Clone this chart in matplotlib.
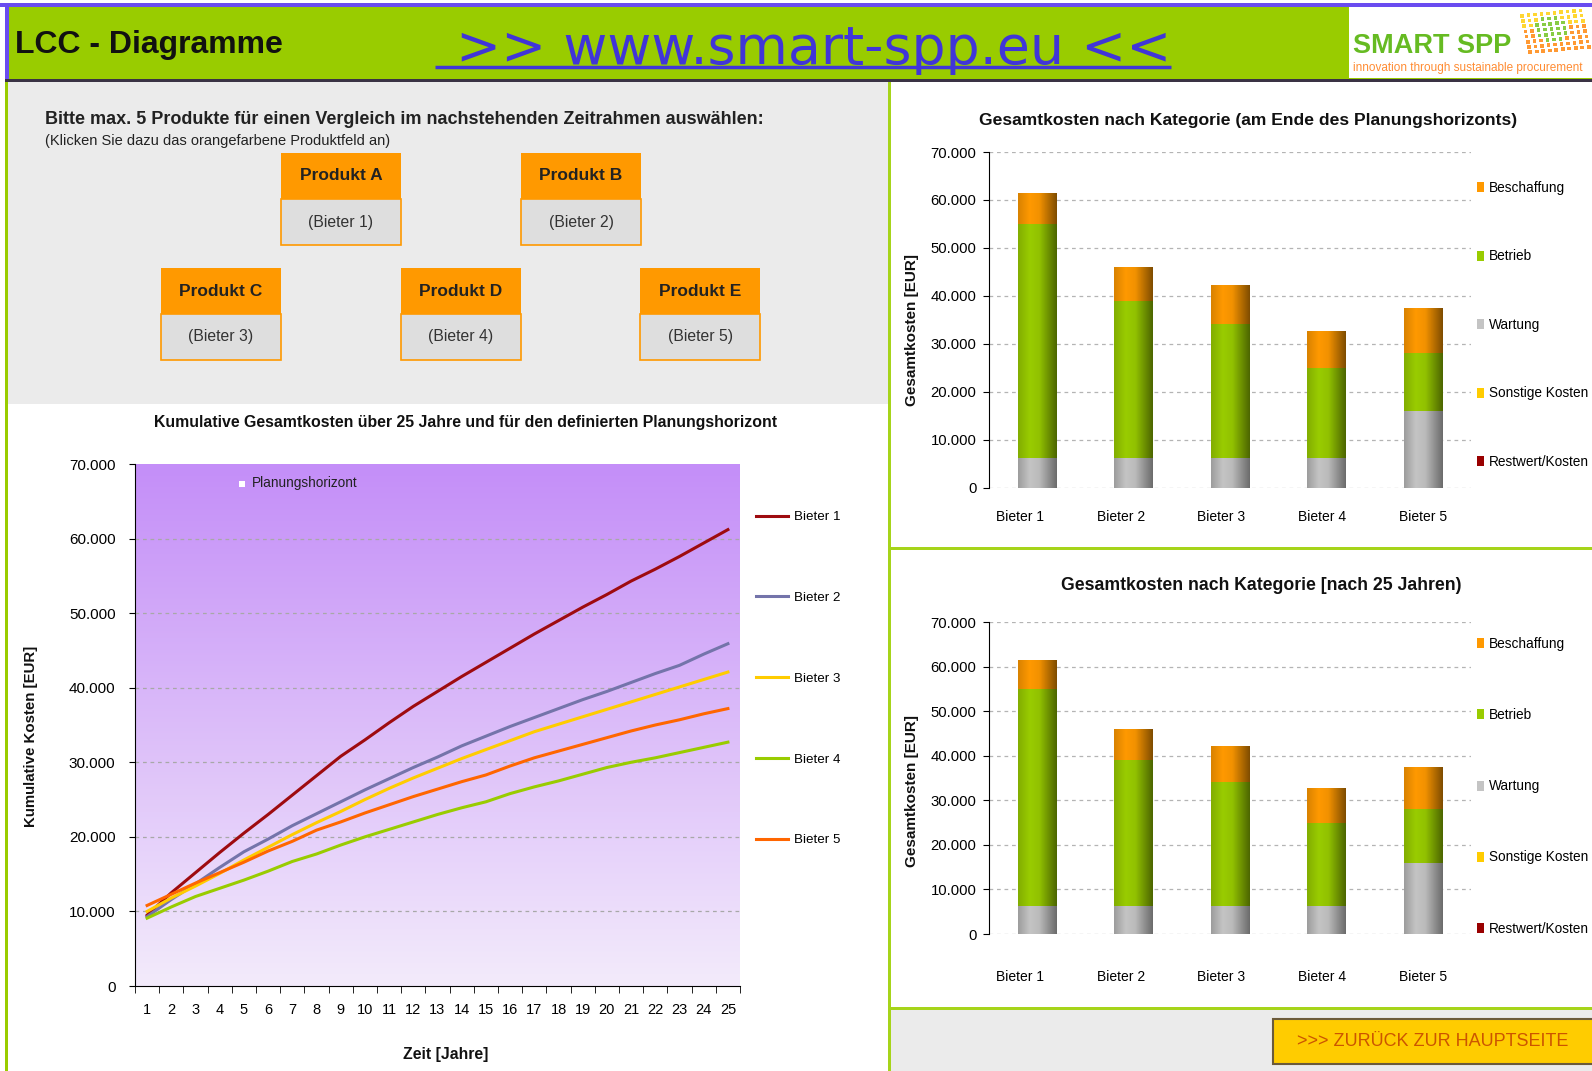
import numpy as np
import matplotlib
matplotlib.use('Agg')
import matplotlib.pyplot as plt
from matplotlib.patches import Rectangle
from matplotlib.colors import to_rgb
from matplotlib.ticker import FuncFormatter, MultipleLocator
from matplotlib.transforms import ScaledTranslation

plt.rcParams['font.family'] = ['Liberation Sans', 'DejaVu Sans']

W, H = 1592, 1071

# ---- data ----
jahre = list(range(1, 26))
bieter = ['Bieter 1', 'Bieter 2', 'Bieter 3', 'Bieter 4', 'Bieter 5']

kum_b1 = [9500, 12500, 15200, 17900, 20500, 23000, 25600, 28200, 30800, 33000,
          35300, 37500, 39500, 41500, 43400, 45300, 47200, 49000, 50800, 52500,
          54300, 55900, 57600, 59400, 61200]
kum_b2 = [9300, 11600, 13700, 15900, 18000, 19700, 21500, 23100, 24700, 26300,
          27800, 29300, 30700, 32200, 33500, 34800, 36000, 37200, 38400, 39500,
          40700, 41900, 43000, 44500, 45900]
kum_b3 = [10000, 11800, 13400, 15100, 16900, 18600, 20300, 21900, 23400, 25000,
          26500, 27900, 29200, 30500, 31700, 32900, 34100, 35100, 36100, 37100,
          38100, 39100, 40100, 41100, 42100]
kum_b4 = [9100, 10600, 12000, 13100, 14200, 15400, 16700, 17700, 18900, 20000,
          21000, 22000, 23000, 23900, 24700, 25800, 26700, 27500, 28400, 29300,
          30000, 30600, 31300, 32000, 32700]
kum_b5 = [10800, 12300, 13800, 15200, 16600, 18100, 19400, 20900, 22000, 23200,
          24300, 25400, 26400, 27400, 28300, 29500, 30600, 31500, 32400, 33300,
          34200, 35000, 35700, 36500, 37200]

kategorien = ['Beschaffung', 'Betrieb', 'Wartung', 'Sonstige Kosten', 'Restwert/Kosten']
wartung = [6200, 6200, 6200, 6200, 16000]
betrieb = [48800, 32800, 28000, 18800, 12100]
beschaffung = [6400, 7000, 8000, 7800, 9300]
sonstige = [0, 0, 0, 0, 0]
restwert = [0, 0, 0, 0, 0]

produkte = ['Produkt A', 'Produkt B', 'Produkt C', 'Produkt D', 'Produkt E']

line_colors = ['#9E0B0F', '#7474AA', '#FFCC00', '#99CC00', '#FF6600']
kat_colors = {'Beschaffung': '#FF9900', 'Betrieb': '#99CC00', 'Wartung': '#C4C4C4',
              'Sonstige Kosten': '#FFCC00', 'Restwert/Kosten': '#990000'}

def de_fmt(v, p):
    return f'{int(round(v)):,}'.replace(',', '.')

def px_axes(l, t, r, b):
    return fig.add_axes([l / W, 1 - b / H, (r - l) / W, (b - t) / H])

fig = plt.figure(figsize=(W / 100, H / 100), dpi=100, facecolor='white')

# ---- page background / frames ----
bg = fig.add_axes([0, 0, 1, 1])
bg.set_xlim(0, W)
bg.set_ylim(H, 0)
bg.axis('off')

bg.add_patch(Rectangle((8, 82), 881, 322, fc='#EBEBEB', ec='none'))
bg.add_patch(Rectangle((891, 1010), 701, 61, fc='#EBEBEB', ec='none'))
bg.add_patch(Rectangle((5, 5), W, 76, fc='#99CC00', ec='none'))
bg.add_patch(Rectangle((0, 3), W, 3.5, fc='#6A4CF0', ec='none'))
bg.add_patch(Rectangle((5, 3), 4, 78, fc='#6A4CF0', ec='none'))
bg.add_patch(Rectangle((5, 79), W, 3, fc='#3A3344', ec='none'))
bg.add_patch(Rectangle((5, 82), 3, H - 82, fc='#99CC00', ec='none'))
bg.add_patch(Rectangle((888, 82), 3, H - 82, fc='#A6D41A', ec='none'))
bg.add_patch(Rectangle((891, 547), 701, 3, fc='#A6D41A', ec='none'))
bg.add_patch(Rectangle((891, 1007), 701, 3, fc='#A6D41A', ec='none'))

# header
bg.text(15, 45, 'LCC - Diagramme', fontsize=23, fontweight='bold', va='center', color='#111111')
bg.text(456, 64, '>> www.smart-spp.eu <<', fontsize=38.7, color='#4035D8', va='baseline',
        family='DejaVu Sans')
bg.plot([435, 1171], [67, 67], color='#4035D8', lw=2.5, solid_capstyle='butt')

# logo
bg.add_patch(Rectangle((1349, 7), 243, 71, fc='white', ec='none'))
bg.text(1353, 46, 'SMART SPP', fontsize=19.5, fontweight='bold', color='#66BB22', va='center')
bg.text(1353, 68, 'innovation through sustainable procurement', fontsize=8.5,
        color='#FF8C33', va='center')
for i in range(8):
    for j in range(10):
        x = 1520 + j * 6.5 + i * 1.2
        y = 14 + i * 5.2 - j * 0.6
        if (j - 4) ** 2 + (i - 3) ** 2 < 8:
            c = '#88CC44'
        elif i < 3:
            c = '#FFD633'
        else:
            c = '#FF9933'
        bg.add_patch(Rectangle((x, y), 3.6, 3.6, fc=c, ec='none'))

# selection area
bg.text(45, 120, 'Bitte max. 5 Produkte für einen Vergleich im nachstehenden Zeitrahmen auswählen:',
        fontsize=13, fontweight='bold', va='center', color='#222222')
bg.text(45, 141, '(Klicken Sie dazu das orangefarbene Produktfeld an)', fontsize=10.5,
        va='center', color='#222222')
boxes = [(281, 153), (521, 153), (161, 268), (401, 268), (640, 268)]
for k, (bx, by) in enumerate(boxes):
    bg.add_patch(Rectangle((bx, by), 120, 46, fc='#FF9900', ec='none'))
    bg.add_patch(Rectangle((bx, by + 46), 120, 46, fc='#DEDEDE', ec='#FF9900', lw=1.2))
    bg.text(bx + 60, by + 23, produkte[k], fontsize=12.5, fontweight='bold', ha='center',
            va='center', color='#222222')
    bg.text(bx + 60, by + 69, '(' + bieter[k] + ')', fontsize=11.3, ha='center',
            va='center', color='#333333')

# button
bg.add_patch(Rectangle((1273, 1019), 325, 45, fc='#FFCC00', ec='#6B5A3A', lw=1.5))
bg.text(1433, 1042, '>>> ZURÜCK ZUR HAUPTSEITE', fontsize=13, color='#CC5500',
        ha='center', va='center')

# ---- line chart ----
ax = px_axes(135, 464, 740, 986)
grad = np.linspace(0, 1, 256)[:, None]
top = np.array(to_rgb('#C48EF8'))
bot = np.array(to_rgb('#F3EBFB'))
img = top[None, None, :] * (1 - grad[:, :, None]) + bot[None, None, :] * grad[:, :, None]
ax.imshow(img, extent=[0.5, 25.5, 0, 70000], aspect='auto', zorder=0)
serien = [kum_b1, kum_b2, kum_b3, kum_b4, kum_b5]
for s, c, lab in zip(serien, line_colors, bieter):
    ax.plot(jahre, s, color=c, lw=2.2, label=lab, zorder=3)
ax.set_xlim(0.5, 25.5)
ax.set_ylim(0, 70000)
ax.yaxis.set_major_locator(MultipleLocator(10000))
ax.yaxis.set_major_formatter(FuncFormatter(de_fmt))
ax.set_xticks(jahre)
ax.set_xticks(np.arange(0.5, 26, 1), minor=True)
ax.tick_params(axis='x', which='major', length=0, pad=12, labelsize=10.5)
ax.tick_params(axis='x', which='minor', length=5, direction='out')
ax.tick_params(axis='y', length=4, pad=10, labelsize=11)
for v in range(10000, 70000, 10000):
    ax.axhline(v, color='#A8A8A8', lw=0.9, ls=(0, (3, 3)), zorder=1)
for sp in ['top', 'right']:
    ax.spines[sp].set_visible(False)
ax.spines['left'].set_zorder(5)
ax.spines['bottom'].set_zorder(5)
ax.legend(loc='upper left', bbox_to_anchor=(756 / W, 1 - 511 / H), bbox_transform=fig.transFigure,
          frameon=False, fontsize=9.6, handlelength=2.4, handletextpad=0.45, labelspacing=5.13,
          borderpad=0, borderaxespad=0)
ax.add_patch(Rectangle((239, 481), 6, 6, fc='white', ec='none', zorder=5,
                       transform=bg.transData, clip_on=False))
ax.text(252, 483, 'Planungshorizont', fontsize=9.8, va='center', color='#222222', zorder=5,
        transform=bg.transData)

bg.text(466, 423, 'Kumulative Gesamtkosten über 25 Jahre und für den definierten Planungshorizont',
        fontsize=11.4, fontweight='bold', ha='center', va='center', color='#111111')
bg.text(31, 736, 'Kumulative Kosten [EUR]', fontsize=10.8, fontweight='bold', rotation=90,
        ha='center', va='center', color='#111111')
bg.text(446, 1054, 'Zeit [Jahre]', fontsize=11.3, fontweight='bold', ha='center', va='center',
        color='#111111')


# ---- stacked bar charts ----
def shade(a, bars, color, prof):
    t = np.linspace(0, 1, 64)
    f = np.interp(t, [0, 0.3, 0.55, 1], prof)
    base = np.array(to_rgb(color))
    im_arr = np.clip(base[None, None, :] * f[None, :, None], 0, 1)
    for r in bars:
        x, y = r.get_xy()
        w, h = r.get_width(), r.get_height()
        if h <= 0:
            continue
        im = a.imshow(im_arr, extent=[x, x + w, y, y + h], aspect='auto', zorder=3,
                      interpolation='bilinear')
        im.set_clip_path(r)


def bar_chart(box, title, title_xy, leg_top, leg_space, ylab_y, label_pad, title_fs):
    a = px_axes(*box)
    xs = np.arange(len(bieter))
    reihen = [('Wartung', wartung), ('Betrieb', betrieb), ('Beschaffung', beschaffung),
              ('Sonstige Kosten', sonstige), ('Restwert/Kosten', restwert)]
    bottom = np.zeros(len(bieter))
    handles = {}
    for name, vals in reihen:
        bars = a.bar(xs, vals, 0.4, bottom=bottom, color=kat_colors[name], label=name,
                     zorder=2, lw=0)
        prof = [0.85, 1.0, 0.95, 0.5] if name != 'Wartung' else [0.8, 1.0, 0.95, 0.55]
        shade(a, bars, kat_colors[name], prof)
        handles[name] = bars
        bottom = bottom + np.array(vals)
    a.set_xlim(-0.5, len(bieter) - 0.5)
    a.set_ylim(0, 70000)
    a.yaxis.set_major_locator(MultipleLocator(10000))
    a.yaxis.set_major_formatter(FuncFormatter(de_fmt))
    a.set_xticks(xs)
    a.set_xticklabels(bieter)
    a.tick_params(axis='x', length=0, pad=label_pad, labelsize=10)
    a.tick_params(axis='y', length=4, pad=5, labelsize=10.7)
    # category labels sit slightly left of the bars, more so on the left
    n = len(bieter)
    for i, lab in enumerate(a.get_xticklabels()):
        shift = ScaledTranslation(-0.17 * (n - 1 - i) / (n - 1), 0, fig.dpi_scale_trans)
        lab.set_transform(lab.get_transform() + shift)
    for v in range(0, 80000, 10000):
        a.axhline(v, color='#B4B4B4', lw=0.9, ls=(0, (3, 3)), zorder=1)
    for sp in ['top', 'right', 'bottom']:
        a.spines[sp].set_visible(False)
    a.legend([handles[k] for k in kategorien], kategorien, loc='upper left',
             bbox_to_anchor=(1477 / W, 1 - leg_top / H), bbox_transform=fig.transFigure,
             frameon=False, fontsize=9.8, handlelength=0.5, handleheight=0.75,
             handletextpad=0.4, labelspacing=leg_space, borderpad=0, borderaxespad=0)
    bg.text(title_xy[0], title_xy[1], title, fontsize=title_fs, fontweight='bold', ha='center',
            va='center', color='#111111')
    bg.text(912, ylab_y, 'Gesamtkosten [EUR]', fontsize=11, fontweight='bold', rotation=90,
            ha='center', va='center', color='#111111')


bar_chart((989, 152, 1471, 488), 'Gesamtkosten nach Kategorie (am Ende des Planungshorizonts)',
          (1248, 120), 181, 4.0, 330, 16, 12.6)
bar_chart((989, 622, 1471, 934), 'Gesamtkosten nach Kategorie [nach 25 Jahren)',
          (1261, 586), 637, 4.2, 791, 26, 12.7)

fig.savefig('out.png', dpi=100, facecolor='white')
